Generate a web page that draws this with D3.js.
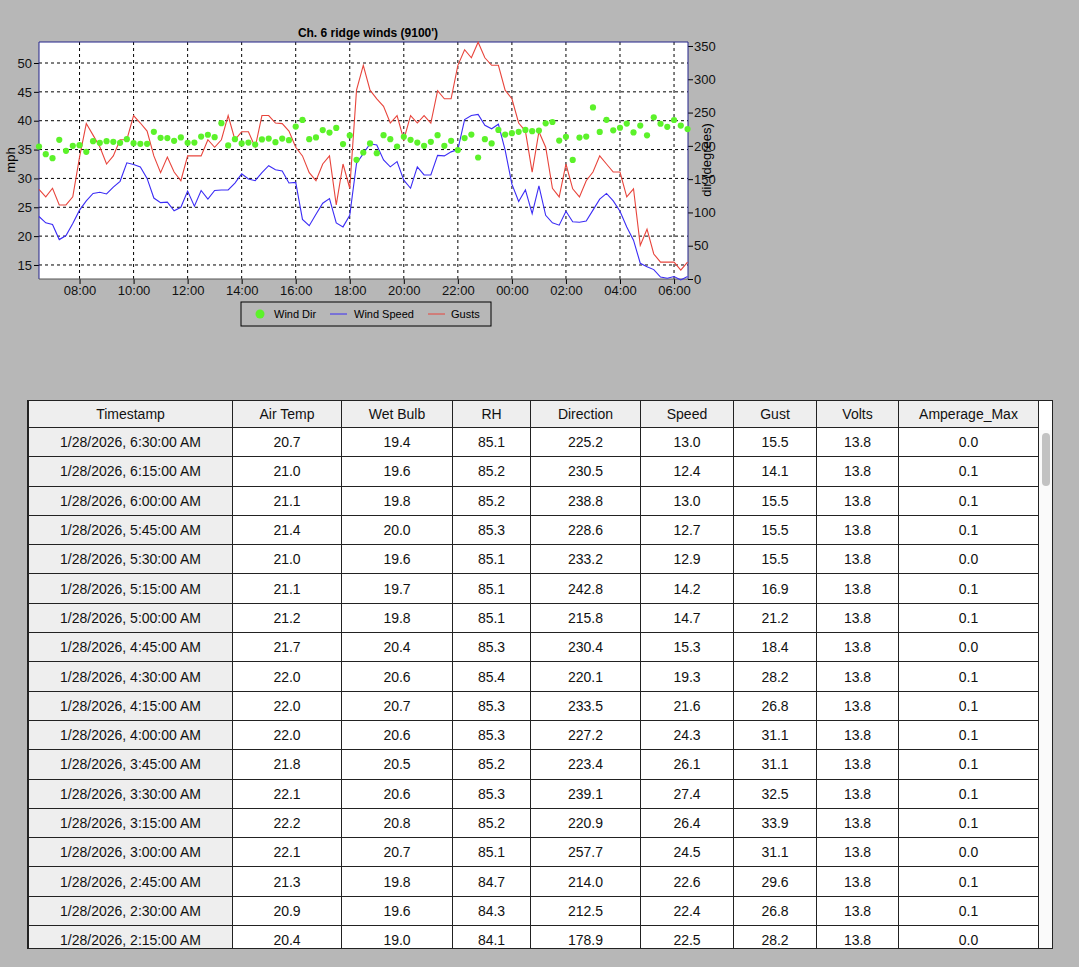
<!DOCTYPE html>
<html><head><meta charset="utf-8">
<script src="https://cdn.jsdelivr.net/npm/d3@7"></script>
<style>
body{margin:0;background:#b7b7b7;font-family:"Liberation Sans",Arial,sans-serif;}
#tbl{position:absolute;left:27px;top:400px;width:1024px;height:547px;border:1px solid #222;overflow:hidden;background:#fff;}
table{border-collapse:collapse;font-size:14px;table-layout:fixed;margin-top:-1px;}
td,th{border:1px solid #222;height:28.3px;padding:0;text-align:center;font-weight:normal;color:#111;}
th{background:#eee;height:26px;}
td.ts{background:#eee;}
#sb{position:absolute;left:1011px;top:29px;width:14px;height:520px;background:#fafafa;}
#thumb{position:absolute;left:3px;top:3px;width:8px;height:53px;border-radius:4px;background:#c2c2c2;}
</style></head><body>
<svg id="chart" width="1079" height="340" style="position:absolute;left:0;top:0"></svg>
<div id="tbl"></div>
<script>
// ---- chart series, 15 min steps from 1/27 6:30 AM to 1/28 6:30 AM
var speed=[23.4,22.3,22.0,19.4,20.1,22.2,24.5,26.1,27.4,27.6,27.3,28.5,29.5,32.7,32.4,32.0,30.0,26.6,25.8,25.9,
 24.4,25.0,27.8,25.2,27.9,26.4,27.9,28.0,28.0,29.2,30.8,29.9,29.6,31.0,32.2,31.5,31.3,29.2,29.3,22.9,
 21.8,23.8,25.7,26.5,22.3,21.6,23.6,32.6,34.3,36.0,35.8,33.2,32.0,32.9,29.7,28.3,32.0,30.6,30.6,34.0,
 33.9,34.6,35.0,40.2,40.9,41.1,39.2,38.6,39.4,34.9,29.0,26.0,28.0,23.9,28.7,23.6,22.3,21.9,24.3,
 22.5,22.4,22.6,24.5,26.4,27.4,26.1,24.3,21.6,19.3,15.3,14.7,14.2,12.9,12.7,13.0,12.4,13.0];
var gusts=[28.1,26.8,28.3,25.4,25.4,26.8,33.7,39.5,37.5,35.5,32.5,33.9,36.7,36.7,40.9,39.6,38.2,33.9,31.0,33.7,
 31.1,29.6,33.9,33.9,33.9,36.7,35.4,36.7,40.9,36.7,38.1,38.1,35.4,40.9,40.9,39.6,39.5,38.2,35.4,33.9,
 31.0,29.6,32.5,33.9,25.4,32.5,28.3,45.3,49.6,45.3,43.8,42.5,39.6,40.9,36.7,40.9,39.6,40.9,39.6,45.2,
 43.8,43.8,49.6,52.3,50.9,53.6,50.9,49.6,49.6,45.3,43.8,39.6,38.2,31.1,38.1,35.4,28.3,26.8,32.5,
 28.2,26.8,29.6,31.1,33.9,32.5,31.1,31.1,26.8,28.2,18.4,21.2,16.9,15.5,15.5,15.5,14.1,15.5];
var windDir=[199,187.5,181.5,209,192.5,200,201,191,207,204.6,207,206,204.6,210,204,203,203,221,212,211.7,
 207.6,212.7,204.6,205,214,216.7,213,234,200.6,210,203.6,205,202,209.6,211,205.6,211,208.6,229,239,
 210,212.7,223.7,220,227,202.6,215.7,179,190,203.6,189,216,210,199,213.7,209,205,200,206,216,
 200,207.6,193.6,211.7,217,182.5,210,203.6,224,217,219,221,224,222,223,233.8,235.8,208,213.7,
 178.9,212.5,214.0,257.7,220.9,239.1,223.4,227.2,233.5,220.1,230.4,215.8,242.8,233.2,228.6,238.8,230.5,225.2];
var mphTicks=[15,20,25,30,35,40,45,50];
var dirTicks=[0,50,100,150,200,250,300,350];

// ---- table rows (newest first)
var stamps=["6:30","6:15","6:00","5:45","5:30","5:15","5:00","4:45","4:30","4:15","4:00","3:45","3:30","3:15","3:00","2:45","2:30","2:15"];
var airTemp=[20.7,21.0,21.1,21.4,21.0,21.1,21.2,21.7,22.0,22.0,22.0,21.8,22.1,22.2,22.1,21.3,20.9,20.4];
var wetBulb=[19.4,19.6,19.8,20.0,19.6,19.7,19.8,20.4,20.6,20.7,20.6,20.5,20.6,20.8,20.7,19.8,19.6,19.0];
var rh=[85.1,85.2,85.2,85.3,85.1,85.1,85.1,85.3,85.4,85.3,85.3,85.2,85.3,85.2,85.1,84.7,84.3,84.1];
var direction=[225.2,230.5,238.8,228.6,233.2,242.8,215.8,230.4,220.1,233.5,227.2,223.4,239.1,220.9,257.7,214.0,212.5,178.9];
var spd=[13.0,12.4,13.0,12.7,12.9,14.2,14.7,15.3,19.3,21.6,24.3,26.1,27.4,26.4,24.5,22.6,22.4,22.5];
var gust=[15.5,14.1,15.5,15.5,15.5,16.9,21.2,18.4,28.2,26.8,31.1,31.1,32.5,33.9,31.1,29.6,26.8,28.2];
var volts=[13.8,13.8,13.8,13.8,13.8,13.8,13.8,13.8,13.8,13.8,13.8,13.8,13.8,13.8,13.8,13.8,13.8,13.8];
var ampMax=[0.0,0.1,0.1,0.1,0.0,0.1,0.1,0.0,0.1,0.1,0.1,0.1,0.1,0.1,0.0,0.1,0.1,0.0];
var headers=["Timestamp","Air Temp","Wet Bulb","RH","Direction","Speed","Gust","Volts","Amperage_Max"];
var colW=[204,109,111,78,110,93,83,82,140];

var t0=new Date(2026,0,27,6,30), times=speed.map(function(d,i){return new Date(+t0+i*9e5);});
var svg=d3.select("#chart"), L=39, R=688, T=42, B=279;
var x=d3.scaleTime().domain([t0,new Date(2026,0,28,6,31)]).range([L,R]);
var y=d3.scaleLinear().domain([12.57,53.64]).range([B,T]);
var y2=d3.scaleLinear().domain([0,356]).range([B,T]);
svg.append("rect").attr("x",L).attr("y",T).attr("width",R-L).attr("height",B-T).attr("fill","#fff");
var xt=d3.timeHour.every(2).range(new Date(2026,0,27,8),new Date(2026,0,28,7));
svg.append("g").selectAll("line").data(xt).join("line").attr("x1",x).attr("x2",x).attr("y1",T).attr("y2",B)
  .attr("stroke","#000").attr("stroke-dasharray","3,3");
svg.append("g").selectAll("line").data(mphTicks).join("line").attr("y1",y).attr("y2",y).attr("x1",L).attr("x2",R)
  .attr("stroke","#000").attr("stroke-dasharray","3,3");
function style(g){g.selectAll("text").attr("font-size",13).attr("fill","#111").attr("font-family","Liberation Sans,Arial");g.select(".domain").remove();}
svg.append("g").attr("transform","translate("+L+",0)").call(d3.axisLeft(y).tickValues(mphTicks).tickSize(5).tickPadding(2)).call(style);
svg.append("g").attr("transform","translate("+R+",0)").call(d3.axisRight(y2).tickValues(dirTicks).tickSize(5).tickPadding(1)).call(style);
svg.append("g").attr("transform","translate(0,"+B+")").call(d3.axisBottom(x).tickValues(xt).tickFormat(d3.timeFormat("%H:%M")).tickSize(5).tickPadding(2)).call(style);
svg.append("path").attr("d","M"+L+","+B+"V"+T+"H"+R+"V"+B).attr("fill","none").attr("stroke","#22228a");
svg.append("line").attr("x1",L).attr("x2",R).attr("y1",B).attr("y2",B).attr("stroke","#555");
var line=function(arr){return d3.line().x(function(d,i){return x(times[i]);}).y(function(d){return y(d);})(arr);};
svg.append("path").attr("d",line(gusts)).attr("fill","none").attr("stroke","#e8453c").attr("stroke-width",1.1);
svg.append("path").attr("d",line(speed)).attr("fill","none").attr("stroke","#3b2cf5").attr("stroke-width",1.1);
svg.append("g").selectAll("circle").data(windDir).join("circle").attr("cx",function(d,i){return x(times[i]);})
  .attr("cy",y2).attr("r",3.1).attr("fill","#5cf22a");
svg.append("text").attr("x",368).attr("y",37).attr("text-anchor","middle").attr("font-size",12).attr("font-weight","bold").text("Ch. 6 ridge winds (9100')");
svg.append("text").attr("transform","translate(15,160) rotate(-90)").attr("text-anchor","middle").attr("font-size",13).text("mph");
svg.append("text").attr("transform","translate(711,160) rotate(-90)").attr("text-anchor","middle").attr("font-size",13).text("dir (degrees)");
var lg=svg.append("g").attr("transform","translate(241,302)").attr("font-size",11);
lg.append("rect").attr("width",250).attr("height",24).attr("fill","none").attr("stroke","#000");
lg.append("circle").attr("cx",19).attr("cy",12).attr("r",4.5).attr("fill","#5cf22a");
lg.append("text").attr("x",33).attr("y",16).text("Wind Dir");
lg.append("line").attr("x1",89).attr("x2",106).attr("y1",12).attr("y2",12).attr("stroke","#3b2cf5");
lg.append("text").attr("x",113).attr("y",16).text("Wind Speed");
lg.append("line").attr("x1",187).attr("x2",204).attr("y1",12).attr("y2",12).attr("stroke","#e8453c");
lg.append("text").attr("x",210).attr("y",16).text("Gusts");

// ---- table
var tb=d3.select("#tbl").append("table");
tb.append("colgroup").selectAll("col").data(colW).join("col").style("width",function(d){return d+"px";});
tb.append("tr").selectAll("th").data(headers).join("th").text(function(d){return d;});
stamps.forEach(function(s,i){
  var row=["1/28/2026, "+s+":00 AM",airTemp[i].toFixed(1),wetBulb[i].toFixed(1),rh[i].toFixed(1),direction[i].toFixed(1),
    spd[i].toFixed(1),gust[i].toFixed(1),volts[i].toFixed(1),ampMax[i].toFixed(1)];
  tb.append("tr").selectAll("td").data(row).join("td").attr("class",function(d,j){return j?null:"ts";}).text(function(d){return d;});
});
d3.select("#tbl").append("div").attr("id","sb").append("div").attr("id","thumb");
</script></body></html>
